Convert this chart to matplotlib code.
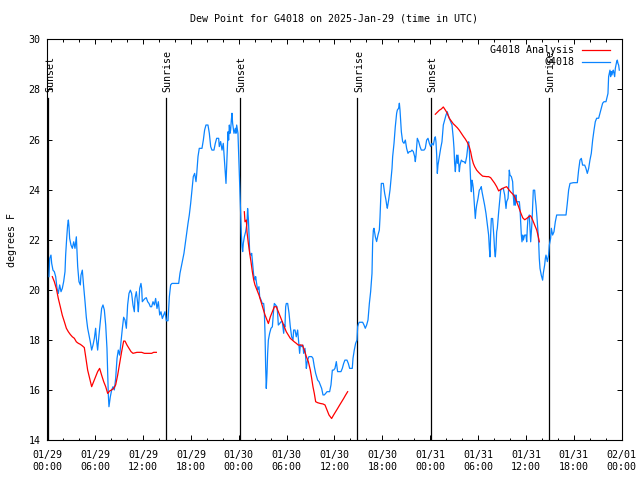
import matplotlib
matplotlib.use("Agg")
import matplotlib.pyplot as plt

# hours since 2025-01-29 00:00 UTC
obs_hours = [
    0.21, 0.30, 0.46, 0.55, 0.71, 0.88, 1.05, 1.22, 1.38, 1.55, 1.72, 1.88, 2.05, 2.22, 2.30, 2.43,
    2.55, 2.64, 2.72, 2.80, 2.97, 3.14, 3.31, 3.47, 3.64, 3.81, 3.97, 4.14, 4.22, 4.39, 4.56, 4.73,
    4.89, 5.06, 5.23, 5.39, 5.56, 5.73, 5.90, 6.06, 6.15, 6.31, 6.48, 6.65, 6.81, 6.98, 7.15, 7.32,
    7.48, 7.57, 7.65, 7.73, 7.90, 8.07, 8.24, 8.40, 8.57, 8.74, 8.90, 9.07, 9.24, 9.41, 9.57, 9.74,
    9.91, 10.07, 10.24, 10.41, 10.57, 10.74, 10.91, 10.99, 11.16, 11.33, 11.41, 11.58, 11.74, 11.83,
    11.91, 12.08, 12.25, 12.41, 12.58, 12.75, 12.92, 13.08, 13.25, 13.42, 13.58, 13.75, 13.92, 14.09,
    14.25, 14.42, 14.59, 14.75, 14.92, 15.13, 15.30, 15.46, 15.63, 16.22, 16.47, 16.63, 16.80, 16.97,
    17.13, 17.30, 17.47, 17.64, 17.80, 17.97, 18.14, 18.30, 18.47, 18.64, 18.72, 18.89, 19.05, 19.39,
    19.56, 19.72, 19.89, 20.14, 20.31, 20.48, 20.64, 20.89, 21.06, 21.23, 21.48, 21.56, 21.73, 21.90,
    22.06, 22.23, 22.40, 22.48, 22.65, 22.73, 22.82, 22.90, 22.98, 23.07, 23.15, 23.23, 23.40, 23.57,
    23.65, 23.74, 23.90, 24.07, 24.15, 24.24, 24.32, 24.41, 24.49, 24.57, 24.70, 24.86, 25.03, 25.11,
    25.20, 25.28, 25.37, 25.53, 25.62, 25.78, 25.87, 26.03, 26.12, 26.20, 26.37, 26.53, 26.62, 26.79,
    26.95, 27.12, 27.20, 27.29, 27.37, 27.45, 27.54, 27.62, 27.71, 27.87, 28.04, 28.21, 28.37, 28.46,
    28.62, 28.79, 28.87, 28.96, 29.13, 29.29, 29.46, 29.63, 29.71, 29.79, 29.88, 29.96, 30.13, 30.30,
    30.46, 30.63, 30.80, 30.88, 31.05, 31.21, 31.38, 31.55, 31.63, 31.72, 31.88, 32.05, 32.13, 32.30,
    32.38, 32.47, 32.55, 32.63, 32.80, 32.97, 33.14, 33.30, 33.47, 33.64, 33.89, 34.06, 34.22, 34.39,
    34.56, 34.72, 34.89, 35.06, 35.22, 35.39, 35.56, 35.73, 35.89, 36.06, 36.23, 36.39, 36.56, 36.81,
    36.98, 37.15, 37.31, 37.56, 37.73, 37.90, 38.07, 38.23, 38.32, 38.48, 38.65, 38.82, 38.90, 39.03,
    39.11, 39.53, 39.70, 39.86, 40.03, 40.20, 40.37, 40.53, 40.70, 40.78, 40.87, 40.95, 41.12, 41.28,
    41.45, 41.62, 41.70, 41.79, 41.87, 42.12, 42.29, 42.45, 42.54, 42.62, 42.79, 42.96, 43.12, 43.21,
    43.29, 43.46, 43.62, 43.79, 43.88, 44.04, 44.13, 44.21, 44.38, 44.54, 44.71, 44.88, 45.04, 45.21,
    45.38, 45.55, 45.71, 45.88, 46.05, 46.13, 46.22, 46.38, 46.55, 46.72, 46.88, 47.22, 47.38, 47.55,
    47.72, 47.89, 48.05, 48.22, 48.39, 48.55, 48.64, 48.72, 48.81, 48.89, 48.97, 49.14, 49.31, 49.47,
    49.56, 49.64, 49.81, 49.98, 50.14, 50.23, 50.39, 50.56, 50.73, 50.89, 50.98, 51.06, 51.15, 51.23,
    51.31, 51.40, 51.48, 51.65, 51.73, 51.90, 52.07, 52.23, 52.40, 52.57, 52.73, 52.82, 52.90, 52.98,
    53.07, 53.15, 53.23, 53.32, 53.40, 53.48, 53.57, 53.65, 53.74, 53.82, 53.99, 54.15, 54.32, 54.40,
    54.49, 54.65, 54.82, 54.99, 55.16, 55.32, 55.41, 55.49, 55.57, 55.66, 55.82, 55.91, 55.99, 56.08,
    56.16, 56.24, 56.33, 56.41, 56.58, 56.74, 56.83, 57.00, 57.16, 57.33, 57.41, 57.50, 57.58, 57.75,
    57.83, 57.91, 58.00, 58.17, 58.33, 58.41, 58.50, 58.58, 58.67, 58.75, 58.83, 59.00, 59.17, 59.25,
    59.33, 59.42, 59.50, 59.59, 59.67, 59.84, 60.00, 60.09, 60.17, 60.25, 60.42, 60.50, 60.59, 60.67,
    60.76, 60.84, 60.92, 61.01, 61.09, 61.17, 61.26, 61.42, 61.59, 61.67, 61.76, 61.92, 62.09, 62.17,
    62.34, 62.43, 62.51, 62.68, 62.84, 62.93, 63.09, 63.18, 63.34, 63.51, 63.68, 63.85, 64.26, 64.68,
    65.02, 65.18, 65.35, 65.52, 65.94, 66.44, 66.60, 66.77, 66.94, 67.10, 67.36, 67.52, 67.69, 67.86,
    68.02, 68.19, 68.36, 68.53, 68.69, 68.86, 69.11, 69.28, 69.44, 69.61, 69.78, 70.03, 70.28, 70.36,
    70.45, 70.53, 70.61, 70.70, 70.78, 70.87, 70.95, 71.03, 71.12, 71.20, 71.28, 71.37, 71.45, 71.53,
    71.62, 71.70,
]
obs_dewpt = [
    20.53, 21.26, 21.39, 21.06, 20.79, 20.73, 20.53, 20.06, 19.86, 20.20, 19.93, 20.06, 20.33, 20.73, 21.39, 22.06,
    22.59, 22.79, 22.52, 22.06, 21.79, 21.66, 21.92, 21.66, 22.12, 20.93, 20.33, 20.20, 20.59, 20.79, 20.13, 19.53,
    18.91, 18.47, 18.20, 17.93, 17.60, 17.80, 18.07, 18.47, 18.07, 17.60, 18.20, 18.73, 19.26, 19.40, 19.20, 18.60,
    17.67, 16.74, 15.81, 15.34, 15.74, 16.01, 16.14, 16.01, 16.47, 17.27, 17.60, 17.40, 17.93, 18.47, 18.91, 18.80,
    18.47, 19.40, 19.86, 19.99, 19.86, 19.40, 19.13, 19.66, 19.93, 19.46, 19.13, 20.06, 20.26, 20.06,
    19.53, 19.60, 19.66, 19.69, 19.53, 19.46, 19.33, 19.33, 19.53, 19.40, 19.66, 19.26, 19.53, 19.00,
    19.13, 18.86, 19.00, 19.13, 18.77, 18.77, 19.73, 20.20, 20.26, 20.26, 20.26, 20.66, 20.93, 21.19,
    21.46, 21.86, 22.26, 22.66, 22.99, 23.45, 23.99, 24.52, 24.65, 24.32, 24.59, 25.32, 25.65, 25.65,
    25.98, 26.38, 26.58, 26.58, 26.25, 25.72, 25.58, 25.58, 25.85, 26.05, 26.05, 25.72, 25.92, 25.58,
    25.85, 25.05, 24.25, 24.92, 26.31, 25.98, 26.58, 26.25, 26.38, 26.78, 27.05, 26.65, 26.25, 26.45,
    26.25, 26.58, 26.25, 24.65, 23.85, 23.05, 22.26, 21.73, 21.53, 21.86, 22.12, 22.32, 22.66, 23.25,
    22.86, 22.26, 21.46, 21.39, 21.46, 20.93, 20.59, 20.40, 20.53, 20.33, 20.00, 20.13, 19.73, 19.60,
    19.46, 19.46, 19.20, 18.27, 16.94, 16.07, 16.67, 17.47, 18.00, 18.27, 18.47, 18.53, 19.20, 19.46,
    19.40, 19.33, 19.07, 18.60, 18.66, 18.73, 18.73, 18.27, 18.60, 18.53, 19.33, 19.46, 19.46, 19.07,
    18.53, 18.13, 18.00, 18.40, 18.40, 18.13, 18.40, 17.80, 17.47, 17.80, 17.74, 17.80, 17.47, 17.67,
    17.34, 16.87, 17.07, 17.20, 17.34, 17.34, 17.34, 17.27, 16.94, 16.67, 16.40, 16.34, 16.21, 16.07,
    15.81, 15.81, 15.87, 15.94, 15.94, 15.94, 16.21, 16.80, 16.80, 16.87, 17.14, 16.74, 16.74, 16.74,
    16.87, 17.07, 17.20, 17.20, 17.07, 16.87, 16.87, 16.87, 17.27, 17.60, 17.87, 18.00, 18.53, 18.67,
    18.71, 18.71, 18.60, 18.47, 18.60, 18.80, 19.46, 19.93, 20.66, 21.86, 22.39, 22.46, 22.12, 21.93,
    22.19, 22.39, 22.86, 23.59, 24.25, 24.25, 23.85, 23.59, 23.39, 23.26, 23.59, 23.99, 24.52, 24.85,
    25.32, 25.85, 26.51, 27.05, 27.18, 27.25, 27.45, 27.18, 26.31, 25.92, 25.85, 25.98, 25.65, 25.45,
    25.52, 25.52, 25.58, 25.52, 25.32, 25.12, 25.38, 26.05, 25.92, 25.72, 25.58, 25.58, 25.65, 25.98,
    26.05, 25.85, 25.72, 25.85, 25.78, 26.05, 26.11, 25.91, 25.38, 24.65, 24.98, 25.32, 25.65, 25.91,
    26.25, 26.58, 26.78, 26.98, 27.11, 26.98, 26.85, 26.71, 26.58, 26.05, 25.65, 25.05, 24.72, 25.12,
    25.38, 25.05, 25.38, 24.72, 24.98, 25.18, 25.12, 25.12, 25.05, 25.32, 25.78, 25.91, 25.58, 24.98,
    24.32, 23.92, 24.38, 24.25, 24.05, 23.65, 23.19, 22.85, 23.19, 23.38, 23.65, 23.98, 24.05, 24.12,
    23.92, 23.65, 23.38, 23.05, 22.59, 22.19, 21.66, 21.32, 22.19, 22.85, 22.85, 22.46, 22.06, 21.53,
    21.32, 21.66, 22.32, 22.46, 23.12, 23.65, 23.98, 24.05, 24.05, 23.79, 23.52, 23.25, 23.52, 23.65,
    24.05, 24.78, 24.58, 24.52, 24.32, 23.79, 23.38, 23.79, 23.38, 23.79, 23.52, 23.52, 23.52, 23.25,
    22.72, 22.19, 21.92, 22.19, 21.99, 22.19, 22.19, 21.92, 22.46, 22.85, 22.99, 22.46, 21.92, 22.32,
    22.72, 23.38, 23.98, 23.98, 23.98, 23.65, 23.38, 22.72, 21.92, 21.26, 20.86, 20.59, 20.39, 20.66,
    20.99, 21.26, 21.39, 21.13, 21.39, 21.79, 22.06, 22.46, 22.19, 22.32, 22.72, 22.99, 22.99, 22.99,
    22.99, 23.45, 23.99, 24.25, 24.28, 24.28, 24.78, 25.18, 25.25, 24.98, 24.98, 24.85, 24.65, 24.85,
    25.18, 25.45, 25.98, 26.38, 26.71, 26.85, 26.85, 27.05, 27.25, 27.45, 27.51, 27.51, 27.84, 28.51,
    28.64, 28.77, 28.51, 28.71, 28.58, 28.71, 28.77, 28.64, 28.51, 28.84, 28.97, 29.11, 29.17, 29.04,
    28.97, 28.77,
]

# analysis, one segment per day
ana_hours_d1 = [0.63, 0.88, 1.13, 1.38, 1.63, 1.88, 2.14, 2.39, 2.64, 2.89, 3.14, 3.39, 3.64, 3.89,
                4.14, 4.39, 4.64, 4.81, 5.06, 5.31, 5.56, 5.81, 6.06, 6.31, 6.56, 6.81, 7.07, 7.32,
                7.57, 7.82, 8.07, 8.32, 8.57, 8.82, 9.07, 9.32, 9.57, 9.74, 9.99, 10.24, 10.49, 10.74,
                11.24, 11.83, 12.17, 12.67, 13.08, 13.33, 13.67]
ana_dewpt_d1 = [20.53, 20.33, 20.06, 19.66, 19.33, 18.99, 18.73, 18.47, 18.33, 18.22, 18.13, 18.07, 17.93, 17.87,
                17.83, 17.77, 17.70, 17.34, 16.80, 16.47, 16.14, 16.34, 16.54, 16.74, 16.87, 16.60, 16.34, 16.14,
                15.87, 15.97, 16.01, 16.07, 16.21, 16.60, 17.07, 17.54, 17.96, 17.96, 17.80, 17.67, 17.54, 17.47,
                17.51, 17.51, 17.47, 17.47, 17.47, 17.51, 17.51]
ana_hours_d2 = [24.70, 24.78, 24.95, 25.03, 25.20, 25.37, 25.53, 25.70, 25.87, 26.03, 26.28, 26.53, 26.79, 27.04,
                27.29, 27.54, 27.71, 27.96, 28.21, 28.46, 28.71, 28.96, 29.21, 29.46, 29.71, 29.96, 30.21, 30.46,
                30.71, 30.96, 31.21, 31.46, 31.72, 31.97, 32.22, 32.47, 32.72, 32.97, 33.14, 33.30, 33.47, 33.64,
                33.89, 34.22, 34.56, 34.81, 35.06, 35.31, 35.64, 35.89, 36.14, 36.39, 36.65, 36.90, 37.15, 37.40,
                37.65]
ana_dewpt_d2 = [23.12, 22.72, 22.79, 22.32, 21.86, 21.46, 21.13, 20.73, 20.40, 20.20, 20.00, 19.80, 19.53, 19.26,
                19.00, 18.80, 18.66, 18.93, 19.13, 19.33, 19.33, 19.13, 18.93, 18.73, 18.53, 18.33, 18.20, 18.07,
                18.00, 17.93, 17.87, 17.80, 17.80, 17.80, 17.60, 17.34, 17.14, 16.80, 16.47, 16.14, 15.87, 15.54,
                15.50, 15.47, 15.45, 15.41, 15.21, 15.01, 14.87, 15.01, 15.14, 15.27, 15.41, 15.54, 15.67, 15.81,
                15.94]
ana_hours_d3 = [48.64, 48.89, 49.14, 49.39, 49.64, 49.89, 50.14, 50.39, 50.64, 50.89, 51.15, 51.40, 51.65, 51.90,
                52.15, 52.40, 52.65, 52.90, 53.07, 53.23, 53.40, 53.57, 53.82, 54.07, 54.32, 54.57, 54.82, 55.07,
                55.32, 55.57, 55.82, 56.07, 56.33, 56.58, 56.83, 57.08, 57.33, 57.58, 57.83, 58.08, 58.33, 58.58,
                58.83, 59.08, 59.33, 59.59, 59.84, 60.09, 60.34, 60.59, 60.84, 61.09, 61.35, 61.59, 61.67]
ana_dewpt_d3 = [27.01, 27.09, 27.17, 27.22, 27.30, 27.18, 27.05, 26.85, 26.74, 26.63, 26.55, 26.47, 26.37, 26.25,
                26.13, 26.02, 25.89, 25.71, 25.51, 25.25, 25.05, 24.92, 24.78, 24.69, 24.61, 24.54, 24.53, 24.52,
                24.52, 24.48, 24.37, 24.26, 24.12, 23.95, 24.01, 24.05, 24.09, 24.12, 24.01, 23.91, 23.83, 23.72,
                23.52, 23.32, 23.09, 22.88, 22.80, 22.85, 22.92, 22.96, 22.79, 22.59, 22.39, 22.06, 21.92]

sun_labels = ["Sunset", "Sunrise", "Sunset", "Sunrise", "Sunset", "Sunrise"]
sun_hours = [0.13, 14.91, 24.19, 38.86, 48.13, 62.92]

tick_hours = [0, 6, 12, 18, 24, 30, 36, 42, 48, 54, 60, 66, 72]
tick_labels = ["01/29\n00:00", "01/29\n06:00", "01/29\n12:00", "01/29\n18:00", "01/30\n00:00",
               "01/30\n06:00", "01/30\n12:00", "01/30\n18:00", "01/31\n00:00", "01/31\n06:00",
               "01/31\n12:00", "01/31\n18:00", "02/01\n00:00"]

plt.rcParams["font.family"] = "DejaVu Sans Mono"
plt.rcParams["font.size"] = 7.2

fig = plt.figure(figsize=(6.4, 4.8), dpi=100)
ax = fig.add_axes([0.0739, 0.0827, 0.8975, 0.8354])

red = "#ff0000"
blue = "#0a84ff"

for h, v in [(ana_hours_d1, ana_dewpt_d1), (ana_hours_d2, ana_dewpt_d2), (ana_hours_d3, ana_dewpt_d3)]:
    ax.plot(h, v, color=red, lw=0.9, zorder=3)
ax.plot(obs_hours, obs_dewpt, color=blue, lw=0.9, zorder=2)

# sunrise / sunset markers
for lab, h in zip(sun_labels, sun_hours):
    ax.axvline(h, ymin=0, ymax=0.854, color="black", lw=0.9, zorder=1)
    ax.text(h + 0.2, 0.869, lab, transform=ax.get_xaxis_transform(), rotation=90,
            ha="center", va="bottom", fontsize=7.2)

ax.set_xlim(0, 72)
ax.set_ylim(14, 30)
ax.set_xticks(tick_hours)
ax.set_xticklabels(tick_labels)
ax.set_xticks(range(0, 73, 2), minor=True)
ax.set_yticks(range(14, 31, 2))
ax.tick_params(which="major", direction="in", length=3.3, width=0.7, top=True, right=True, pad=4)
ax.tick_params(which="minor", direction="in", length=1.8, width=0.7, top=True, right=False)
ax.tick_params(axis="x", pad=7)
ax.tick_params(axis="y", pad=5)
for s in ax.spines.values():
    s.set_linewidth(0.8)

ax.set_ylabel("degrees F", labelpad=8)
ax.set_title("Dew Point for G4018 on 2025-Jan-29 (time in UTC)", pad=13, fontsize=7.2)

# legend (gnuplot style: text then sample line)
leg_y = [0.973, 0.944]
for (lab, col), y in zip([("G4018 Analysis", red), ("G4018", blue)], leg_y):
    ax.text(0.917, y, lab, transform=ax.transAxes, ha="right", va="center", fontsize=7.2)
    ax.plot([0.931, 0.980], [y, y], transform=ax.transAxes, color=col, lw=0.9)

fig.savefig("out.png", dpi=100)
